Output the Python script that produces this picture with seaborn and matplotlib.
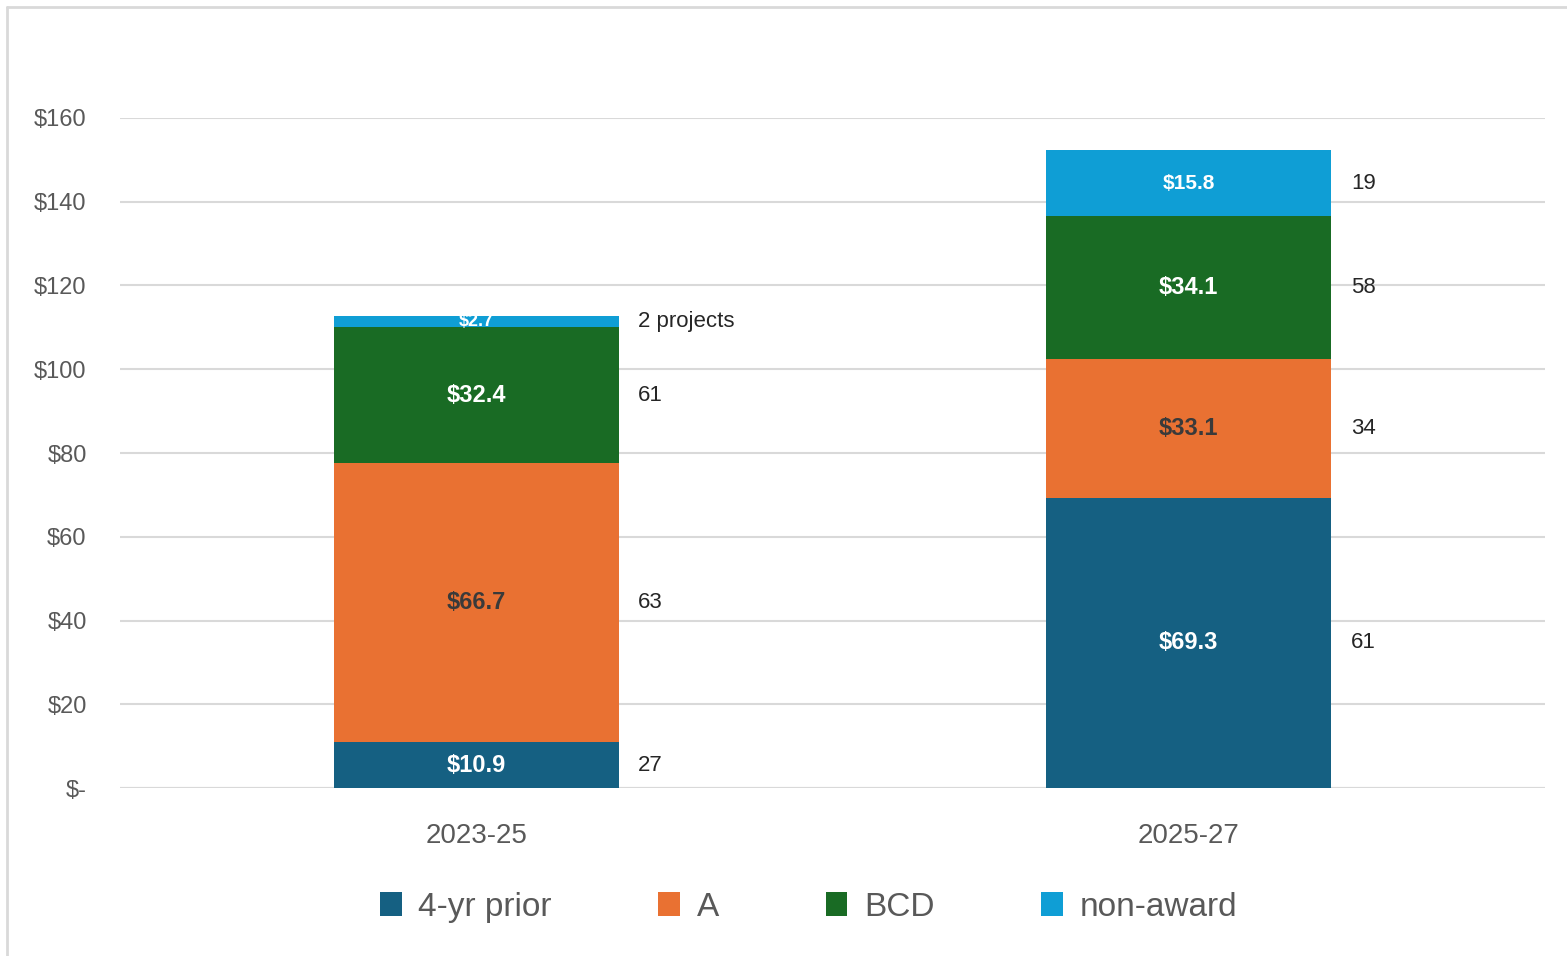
import matplotlib
matplotlib.use("Agg")
import matplotlib.pyplot as plt
from matplotlib.lines import Line2D
from matplotlib.patches import Patch
import numpy as np
import pandas as pd
import seaborn as sns

# Data ($ millions and project counts)
periods = ["2023-25", "2025-27"]
categories = ["4-yr prior", "A", "BCD", "non-award"]
amounts = {
    "4-yr prior": [10.9, 69.3],
    "A": [66.7, 33.1],
    "BCD": [32.4, 34.1],
    "non-award": [2.7, 15.8],
}
counts = {
    "4-yr prior": ["27", "61"],
    "A": ["63", "34"],
    "BCD": ["61", "58"],
    "non-award": ["2 projects", "19"],
}
y_ticks = [0, 20, 40, 60, 80, 100, 120, 140, 160]

colors = {
    "4-yr prior": "#156082",
    "A": "#E97132",
    "BCD": "#196B24",
    "non-award": "#0F9ED5",
}
label_colors = {
    "4-yr prior": "white",
    "A": "#3a3a3a",
    "BCD": "white",
    "non-award": "white",
}

sns.set_style("white")
plt.rcParams["font.family"] = ["Liberation Sans", "DejaVu Sans"]

fig = plt.figure(figsize=(15.67, 9.56), dpi=100)
ax = fig.add_axes([0.0766, 0.1757, 0.9094, 0.7009])

bottoms = np.zeros(len(periods))
for cat in categories:
    df = pd.DataFrame({"period": periods, "value": amounts[cat]})
    sns.barplot(data=df, x="period", y="value", order=periods, color=colors[cat],
                width=0.4, bottom=bottoms.copy(), ax=ax, saturation=1,
                edgecolor="none", linewidth=0, zorder=3)
    container = ax.containers[-1]
    texts = ax.bar_label(container, labels=[f"${v:.1f}" for v in amounts[cat]],
                         label_type="center", color=label_colors[cat],
                         fontweight="bold", fontsize=17)
    # the thin top segments get smaller labels
    if cat == "non-award":
        for t, v in zip(texts, amounts[cat]):
            t.set_fontsize(13 if v < 5 else 15)
    for i, bar in enumerate(container):
        mid = bottoms[i] + amounts[cat][i] / 2
        ax.annotate(counts[cat][i], xy=(bar.get_x() + bar.get_width(), mid),
                    xytext=(14, 0), textcoords="offset points",
                    ha="left", va="center", fontsize=16, color="#262626")
    bottoms += np.array(amounts[cat])

ax.set_xlim(-0.5, 1.5)
ax.set_ylim(0, 160)
ax.set_yticks(y_ticks)
ax.set_yticklabels(["$-" if t == 0 else f"${t}" for t in y_ticks])
ax.yaxis.grid(True, color="#d9d9d9", linewidth=1.5, zorder=0)
ax.set_axisbelow(True)
for s in ax.spines.values():
    s.set_visible(False)
ax.axhline(0, color="#d9d9d9", linewidth=1.5, zorder=1)
ax.tick_params(axis="y", length=0, pad=24, labelsize=17, labelcolor="#595959")
ax.tick_params(axis="x", length=0, pad=25, labelsize=20, labelcolor="#595959")
ax.set_xlabel("")
ax.set_ylabel("")

handles = [Patch(facecolor=colors[c], edgecolor="none") for c in categories]
fig.legend(handles, categories, loc="center", bbox_to_anchor=(0.516, 0.051),
           ncol=4, frameon=False, fontsize=24, labelcolor="#595959",
           handlelength=0.65, handleheight=0.7, handletextpad=0.5,
           columnspacing=3.2)

# thin frame lines (top and left) like the source image
fig.add_artist(Line2D([7 / 1567, 1], [1 - 7 / 956, 1 - 7 / 956],
                      transform=fig.transFigure, color="#d9d9d9", linewidth=2))
fig.add_artist(Line2D([7 / 1567, 7 / 1567], [0, 1 - 7 / 956],
                      transform=fig.transFigure, color="#d9d9d9", linewidth=2))

fig.savefig("out.png", dpi=100)
